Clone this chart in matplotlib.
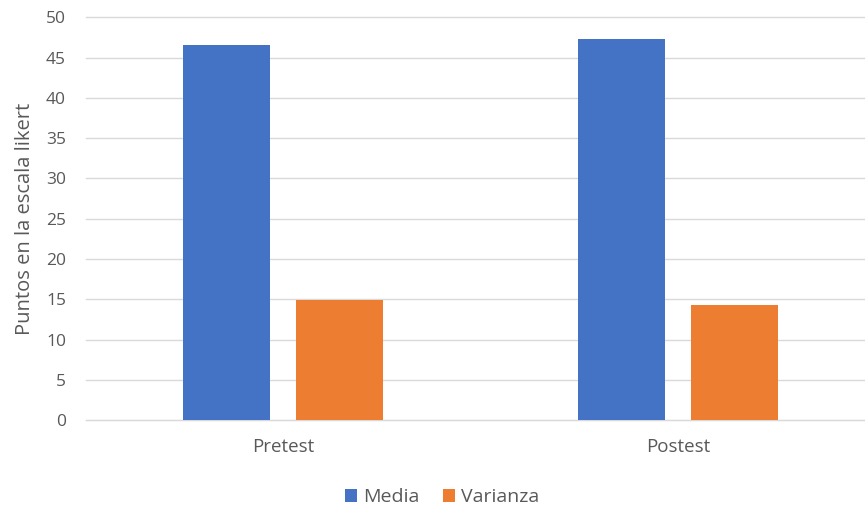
import matplotlib
matplotlib.use("Agg")
import matplotlib.pyplot as plt
import numpy as np

categories = ["Pretest", "Postest"]
media = [46.6, 47.3]
varianza = [14.9, 14.3]
yticks = [0, 5, 10, 15, 20, 25, 30, 35, 40, 45, 50]

plt.rcParams['font.family'] = ['Open Sans', 'DejaVu Sans']
W, H = 865, 512
fig = plt.figure(figsize=(W/100, H/100), dpi=100)
left, right = 85.5, 875.5
top, bottom = 17.5, 420
ax = fig.add_axes([left/W, 1-bottom/H, (right-left)/W, (bottom-top)/H])

x = np.arange(len(categories))
bw = 0.22
off = 0.142
ax.bar(x-off, media, bw, color='#4472C4', label='Media', zorder=3)
ax.bar(x+off, varianza, bw, color='#ED7D31', label='Varianza', zorder=3)

ax.set_xlim(-0.5, 1.5)
ax.set_ylim(0, 50)
ax.set_yticks(yticks)
ax.set_xticks(x)
ax.set_xticklabels(categories)
ax.grid(axis='y', color='#d9d9d9', linewidth=1, zorder=0)
for gl in ax.get_ygridlines():
    gl.set_clip_on(False)
for s in ['top', 'right', 'left']:
    ax.spines[s].set_visible(False)
ax.spines['bottom'].set_color('#d9d9d9')
ax.tick_params(axis='both', length=0, colors='#595959')
ax.tick_params(axis='y', pad=14, labelsize=12.5)
ax.tick_params(axis='x', pad=13, labelsize=13.5)
ax.set_ylabel('Puntos en la escala likert', color='#595959', fontsize=14.5, labelpad=8)

fig.legend(loc='center', bbox_to_anchor=(442/W, 1-497/H), ncol=2, frameon=False,
           fontsize=14, labelcolor='#595959', handlelength=0.65, handleheight=0.65,
           handletextpad=0.3, columnspacing=1.2)

fig.savefig('out.png', dpi=100)
